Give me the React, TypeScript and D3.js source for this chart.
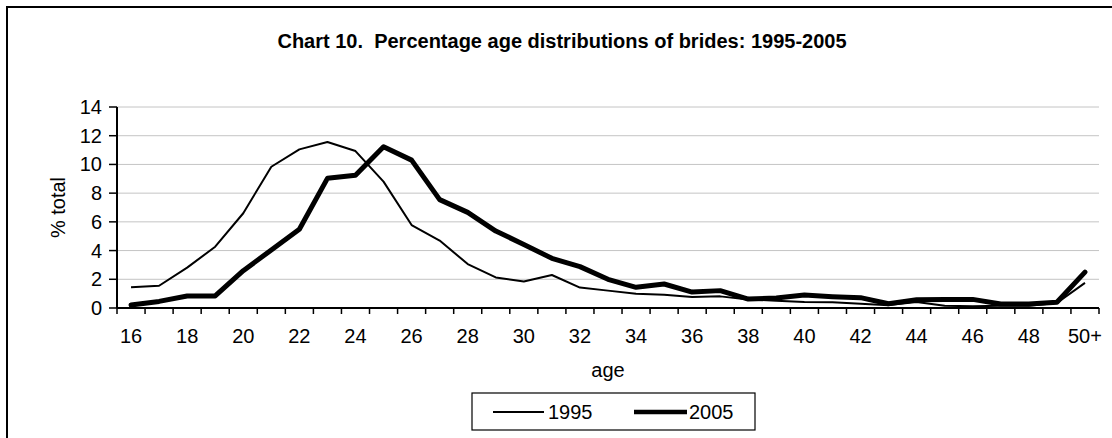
import React from 'react';
import * as d3 from 'd3';

const ages: string[] = [
  '16','17','18','19','20','21','22','23','24','25','26','27','28','29','30','31','32',
  '33','34','35','36','37','38','39','40','41','42','43','44','45','46','47','48','49','50+'
];
const values1995: number[] = [
  1.44, 1.55, 2.81, 4.27, 6.6, 9.84, 11.05, 11.56, 10.93, 8.8, 5.78, 4.7, 3.06, 2.13, 1.85, 2.3, 1.42,
  1.21, 1.0, 0.93, 0.77, 0.81, 0.6, 0.5, 0.42, 0.4, 0.3, 0.2, 0.42, 0.15, 0.12, 0.15, 0.15, 0.35, 1.75
];
const values2005: number[] = [
  0.21, 0.46, 0.84, 0.84, 2.6, 4.04, 5.48, 9.03, 9.24, 11.23, 10.3, 7.55, 6.66, 5.36, 4.43, 3.46, 2.88,
  2.0, 1.44, 1.67, 1.11, 1.21, 0.62, 0.7, 0.9, 0.79, 0.72, 0.3, 0.58, 0.6, 0.6, 0.28, 0.28, 0.4, 2.5
];
const yTicks: number[] = [0, 2, 4, 6, 8, 10, 12, 14];
const xTickLabels: string[] = ['16','18','20','22','24','26','28','30','32','34','36','38','40','42','44','46','48','50+'];
const seriesNames: string[] = ['1995', '2005'];

const W = 1112;
const H = 438;
const FONT = '"Liberation Sans", Arial, Helvetica, sans-serif';

export default function App() {
  const left = 117, right = 1099, top = 107, bottom = 308;
  const x = d3.scaleBand<string>().domain(ages).range([left, right]).padding(0);
  const y = d3.scaleLinear().domain([0, 14]).range([bottom, top]);
  const cx = (a: string) => (x(a) as number) + x.bandwidth() / 2;

  const line = d3.line<number>()
    .x((_, i) => cx(ages[i]))
    .y((d) => y(d));

  const tickBoundaries = ages.map((a) => x(a) as number).concat([right]);

  return (
    <svg width={W} height={H} style={{ position: 'absolute', left: 0, top: 0, display: 'block', background: '#fff' }}
      fontFamily={FONT}>
      <rect x={0} y={0} width={W} height={H} fill="#fff" />
      <rect x={7} y={7} width={W + 20} height={H + 20} fill="none" stroke="#000" strokeWidth={2} />
      <text x={562} y={48} textAnchor="middle" fontSize={20} fontWeight="bold" style={{ whiteSpace: 'pre' }}>
        {'Chart 10.  Percentage age distributions of brides: 1995-2005'}
      </text>

      {yTicks.map((t) => (
        <g key={t}>
          {t > 0 && <line x1={left} x2={right} y1={y(t)} y2={y(t)} stroke="#c4c4c4" strokeWidth={1} />}
          <line x1={left - 8} x2={left} y1={y(t)} y2={y(t)} stroke="#000" strokeWidth={1.5} />
          <text x={102} y={y(t) + 7} textAnchor="end" fontSize={20}>{t}</text>
        </g>
      ))}

      {tickBoundaries.map((bx, i) => (
        <line key={i} x1={bx} x2={bx} y1={bottom} y2={bottom + 6} stroke="#000" strokeWidth={1.5} />
      ))}
      {xTickLabels.map((l) => (
        <text key={l} x={cx(l)} y={343} textAnchor="middle" fontSize={20}>{l}</text>
      ))}

      <line x1={left} x2={left} y1={top} y2={bottom} stroke="#000" strokeWidth={2} />
      <line x1={left} x2={right} y1={bottom} y2={bottom} stroke="#000" strokeWidth={2} />

      <text x={608} y={377} textAnchor="middle" fontSize={20}>age</text>
      <text transform={`translate(65,${(top + bottom) / 2}) rotate(-90)`} textAnchor="middle" fontSize={20}>% total</text>

      <path d={line(values1995) || ''} fill="none" stroke="#000" strokeWidth={2} strokeLinejoin="round" />
      <path d={line(values2005) || ''} fill="none" stroke="#000" strokeWidth={5} strokeLinejoin="round" strokeLinecap="round" />

      <rect x={472} y={393} width={283} height={37} fill="#fff" stroke="#000" strokeWidth={1.2} />
      <line x1={493} x2={544} y1={412} y2={412} stroke="#000" strokeWidth={2} />
      <text x={548} y={419} fontSize={20}>{seriesNames[0]}</text>
      <line x1={634} x2={687} y1={412} y2={412} stroke="#000" strokeWidth={4.5} />
      <text x={689} y={419} fontSize={20}>{seriesNames[1]}</text>
    </svg>
  );
}
